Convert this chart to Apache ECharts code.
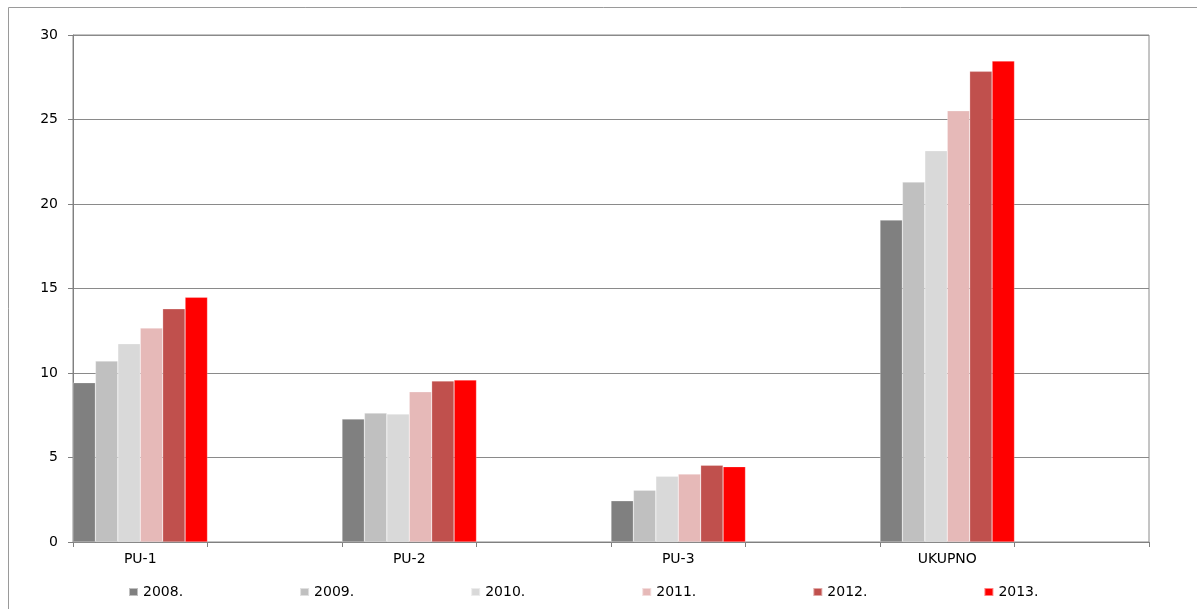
<!DOCTYPE html>
<html>
<head>
<meta charset="utf-8">
<script src="https://cdn.jsdelivr.net/npm/echarts@6/dist/echarts.min.js"></script>
<style>
  html, body { margin: 0; padding: 0; background: #fff; }
  #chart { width: 1197px; height: 609px; }
</style>
</head>
<body>
<div id="chart"></div>
<script>
  // categories and years
  const categories = ['PU-1', 'PU-2', 'PU-3', 'UKUPNO']
  const years = ['2008.', '2009.', '2010.', '2011.', '2012.', '2013.']
  const colors = ['#808080', '#c0c0c0', '#d9d9d9', '#e6b9b8', '#c0504d', '#ff0000']

  // values per year, one entry per category
  const v2008 = [9.43, 7.28, 2.44, 19.05]
  const v2009 = [10.71, 7.63, 3.06, 21.30]
  const v2010 = [11.73, 7.57, 3.89, 23.15]
  const v2011 = [12.66, 8.89, 4.02, 25.52]
  const v2012 = [13.80, 9.53, 4.54, 27.85]
  const v2013 = [14.48, 9.59, 4.46, 28.46]
  const values = [v2008, v2009, v2010, v2011, v2012, v2013]

  // each category is followed by an empty slot, bars sit in the first half
  const axisData = []
  categories.forEach(function (c) { axisData.push(c, '') })
  function spread(arr) {
    const out = []
    arr.forEach(function (v) { out.push(v, '-') })
    return out
  }

  const chart = echarts.init(document.getElementById('chart'))
  const font = 'DejaVu Sans, Arial, sans-serif'

  let option = {
    animation: false,
    textStyle: { fontFamily: font },
    grid: {
      left: 73, right: 48, top: 35, bottom: 67,
      show: true, borderColor: '#8a8a8a', borderWidth: 1
    },
    graphic: [{
      type: 'rect',
      shape: { x: 8.5, y: 7.5, width: 1300, height: 700 },
      style: { fill: 'none', stroke: '#9a9a9a', lineWidth: 1 },
      silent: true
    }],
    legend: {
      bottom: 5,
      left: 123,
      itemWidth: 9,
      itemHeight: 8,
      itemGap: 116,
      icon: 'rect',
      textStyle: { fontFamily: font, fontSize: 14, color: '#000' },
      data: years
    },
    xAxis: {
      type: 'category',
      data: axisData,
      axisLine: { lineStyle: { color: '#808080' } },
      axisTick: { show: true, interval: 0, length: 5, lineStyle: { color: '#808080' } },
      axisLabel: { interval: 0, color: '#000', fontSize: 14, margin: 10, fontFamily: font },
      splitLine: { show: false }
    },
    yAxis: {
      type: 'value',
      min: 0, max: 30, interval: 5,
      axisLine: { show: true, lineStyle: { color: '#808080' } },
      axisTick: { show: true, length: 5, lineStyle: { color: '#808080' } },
      axisLabel: { color: '#000', fontSize: 14, margin: 15, fontFamily: font },
      splitLine: { lineStyle: { color: '#8a8a8a' } }
    },
    series: years.map(function (y, i) {
      return {
        name: y,
        type: 'bar',
        data: spread(values[i]),
        barGap: '0%',
        barCategoryGap: '0%',
        itemStyle: { color: colors[i], borderColor: 'rgba(255,255,255,0.5)', borderWidth: 0.5 }
      }
    })
  }
  chart.setOption(option)
</script>
</body>
</html>
